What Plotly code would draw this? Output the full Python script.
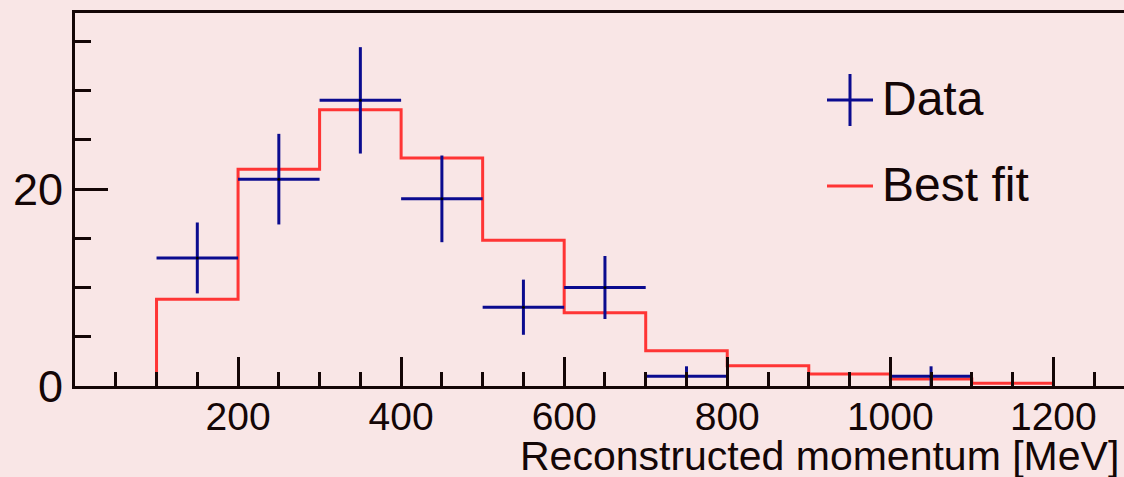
import plotly.graph_objects as go

# Histogram binning (MeV)
bin_centers = [150, 250, 350, 450, 550, 650, 750, 1050]
data_counts = [13, 21, 29, 19, 8, 10, 1, 1]
data_errors = [3.6, 4.6, 5.4, 4.4, 2.8, 3.2, 1.0, 1.0]
bin_half_width = 50

fit_edges = [100, 100, 200, 300, 400, 500, 600, 700, 800, 900, 1000, 1100, 1200]
fit_values = [0, 8.8, 22.0, 28.05, 23.15, 14.8, 7.44, 3.58, 2.06, 1.22, 0.71, 0.27, 0]

x_tick_vals = [200, 400, 600, 800, 1000, 1200]
x_tick_text = ["200", "400", "600", "800", "1000", "1200"]
y_tick_vals = [0, 20]
y_tick_text = ["0", "20"]

BG = "#F9E6E6"
INK = "#140606"
BLUE = "#0B0B8F"
RED = "#FF3535"
SANS = "Liberation Sans, Arial, Helvetica, sans-serif"

W, H = 1124, 477
ML, MR, MT, MB = 75, 0, 13, 91
PW, PH = W - ML - MR, H - MT - MB


def px_x(p):
    return (p - ML) / PW


def px_y(p):
    return (H - MB - p) / PH


fig = go.Figure()

fig.add_trace(go.Scatter(
    x=fit_edges, y=fit_values, mode="lines",
    line=dict(color=RED, width=3, shape="hv"),
    showlegend=False, hoverinfo="skip",
))

fig.add_trace(go.Scatter(
    x=bin_centers, y=data_counts, mode="markers",
    marker=dict(color="black", size=3),
    error_x=dict(type="constant", value=bin_half_width, width=0,
                 thickness=3, color=BLUE),
    error_y=dict(type="data", array=data_errors, width=0,
                 thickness=3, color=BLUE),
    showlegend=False,
))

# Legend drawn as shapes + text
shapes = [
    dict(type="line", xref="paper", yref="paper",
         x0=px_x(827), x1=px_x(873), y0=px_y(100), y1=px_y(100),
         line=dict(color=BLUE, width=3)),
    dict(type="line", xref="paper", yref="paper",
         x0=px_x(850), x1=px_x(850), y0=px_y(74), y1=px_y(126),
         line=dict(color=BLUE, width=3)),
    dict(type="line", xref="paper", yref="paper",
         x0=px_x(827), x1=px_x(873), y0=px_y(186), y1=px_y(186),
         line=dict(color=RED, width=3)),
]

annotations = [
    dict(text="Data", xref="paper", yref="paper", x=px_x(880), y=px_y(98),
         xanchor="left", yanchor="middle", showarrow=False,
         font=dict(family=SANS, size=48, color=INK)),
    dict(text="Best fit", xref="paper", yref="paper", x=px_x(880), y=px_y(184),
         xanchor="left", yanchor="middle", showarrow=False,
         font=dict(family=SANS, size=48, color=INK)),
    dict(text="Reconstructed momentum [MeV]", xref="paper", yref="paper",
         x=px_x(1121), y=px_y(456), xanchor="right", yanchor="middle",
         showarrow=False, font=dict(family=SANS, size=41, color=INK)),
]

fig.update_layout(
    width=W, height=H,
    margin=dict(l=ML, r=MR, t=MT, b=MB, pad=0),
    paper_bgcolor=BG, plot_bgcolor=BG,
    shapes=shapes, annotations=annotations,
    showlegend=False,
    xaxis=dict(
        range=[0, PW / 0.8153], showgrid=False, zeroline=False,
        showline=True, linecolor=INK, linewidth=3, mirror=True,
        ticks="inside", ticklen=29, tickwidth=2.5, tickcolor=INK,
        tickvals=x_tick_vals, ticktext=x_tick_text,
        tickfont=dict(family=SANS, size=39, color=INK),
        ticklabelstandoff=-6,
        minor=dict(dtick=50, tick0=0, ticks="inside", ticklen=14,
                   tickwidth=2.5, tickcolor=INK, showgrid=False),
    ),
    yaxis=dict(
        range=[0, PH / 9.85], showgrid=False, zeroline=False,
        showline=True, linecolor=INK, linewidth=3, mirror=False,
        ticks="inside", ticklen=33, tickwidth=2.5, tickcolor=INK,
        tickvals=y_tick_vals, ticktext=y_tick_text,
        tickfont=dict(family=SANS, size=45, color=INK),
        minor=dict(dtick=5, tick0=0, ticks="inside", ticklen=16,
                   tickwidth=2.5, tickcolor=INK, showgrid=False),
    ),
)

fig.write_html("out.html")
